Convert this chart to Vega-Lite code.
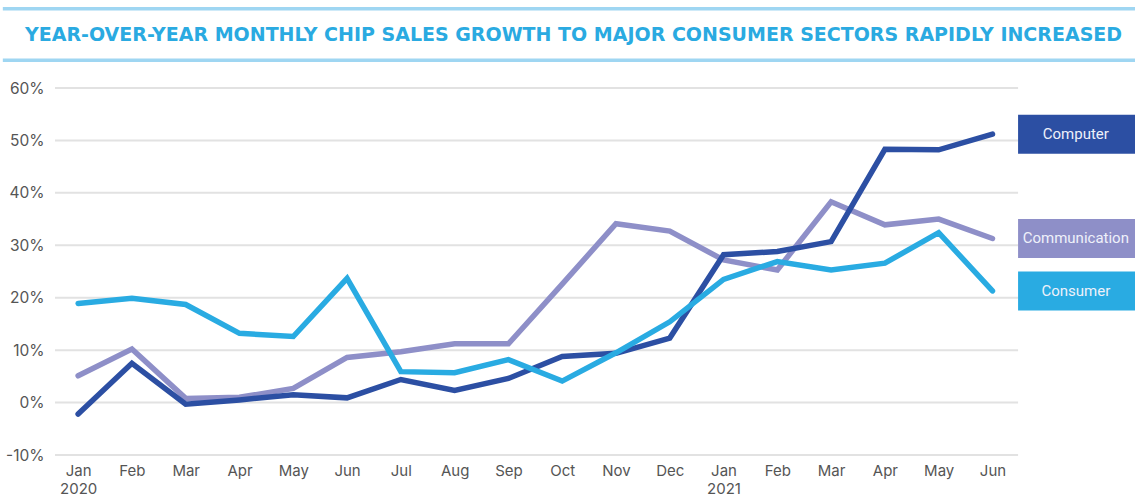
{
  "$schema": "https://vega.github.io/schema/vega-lite/v6.json",
  "autosize": "none",
  "width": 1080,
  "height": 367,
  "padding": {"left": 55, "top": 88, "right": 0, "bottom": 46},
  "background": "white",
  "config": {"view": {"stroke": null}, "font": "Inter"},
  "datasets": {
    "sales": [
      {"month": "Jan 2020", "idx": 0, "series": "Communication", "value": 5.1},
      {"month": "Feb 2020", "idx": 1, "series": "Communication", "value": 10.2},
      {"month": "Mar 2020", "idx": 2, "series": "Communication", "value": 0.8},
      {"month": "Apr 2020", "idx": 3, "series": "Communication", "value": 1.0},
      {"month": "May 2020", "idx": 4, "series": "Communication", "value": 2.7},
      {"month": "Jun 2020", "idx": 5, "series": "Communication", "value": 8.6},
      {"month": "Jul 2020", "idx": 6, "series": "Communication", "value": 9.7},
      {"month": "Aug 2020", "idx": 7, "series": "Communication", "value": 11.2},
      {"month": "Sep 2020", "idx": 8, "series": "Communication", "value": 11.2},
      {"month": "Oct 2020", "idx": 9, "series": "Communication", "value": 22.6},
      {"month": "Nov 2020", "idx": 10, "series": "Communication", "value": 34.1},
      {"month": "Dec 2020", "idx": 11, "series": "Communication", "value": 32.7},
      {"month": "Jan 2021", "idx": 12, "series": "Communication", "value": 27.2},
      {"month": "Feb 2021", "idx": 13, "series": "Communication", "value": 25.3},
      {"month": "Mar 2021", "idx": 14, "series": "Communication", "value": 38.3},
      {"month": "Apr 2021", "idx": 15, "series": "Communication", "value": 33.9},
      {"month": "May 2021", "idx": 16, "series": "Communication", "value": 35.0},
      {"month": "Jun 2021", "idx": 17, "series": "Communication", "value": 31.3},
      {"month": "Jan 2020", "idx": 0, "series": "Computer", "value": -2.2},
      {"month": "Feb 2020", "idx": 1, "series": "Computer", "value": 7.5},
      {"month": "Mar 2020", "idx": 2, "series": "Computer", "value": -0.3},
      {"month": "Apr 2020", "idx": 3, "series": "Computer", "value": 0.5},
      {"month": "May 2020", "idx": 4, "series": "Computer", "value": 1.5},
      {"month": "Jun 2020", "idx": 5, "series": "Computer", "value": 0.9},
      {"month": "Jul 2020", "idx": 6, "series": "Computer", "value": 4.4},
      {"month": "Aug 2020", "idx": 7, "series": "Computer", "value": 2.3},
      {"month": "Sep 2020", "idx": 8, "series": "Computer", "value": 4.6},
      {"month": "Oct 2020", "idx": 9, "series": "Computer", "value": 8.8},
      {"month": "Nov 2020", "idx": 10, "series": "Computer", "value": 9.4},
      {"month": "Dec 2020", "idx": 11, "series": "Computer", "value": 12.3},
      {"month": "Jan 2021", "idx": 12, "series": "Computer", "value": 28.2},
      {"month": "Feb 2021", "idx": 13, "series": "Computer", "value": 28.8},
      {"month": "Mar 2021", "idx": 14, "series": "Computer", "value": 30.7},
      {"month": "Apr 2021", "idx": 15, "series": "Computer", "value": 48.3},
      {"month": "May 2021", "idx": 16, "series": "Computer", "value": 48.2},
      {"month": "Jun 2021", "idx": 17, "series": "Computer", "value": 51.2},
      {"month": "Jan 2020", "idx": 0, "series": "Consumer", "value": 18.9},
      {"month": "Feb 2020", "idx": 1, "series": "Consumer", "value": 19.9},
      {"month": "Mar 2020", "idx": 2, "series": "Consumer", "value": 18.7},
      {"month": "Apr 2020", "idx": 3, "series": "Consumer", "value": 13.2},
      {"month": "May 2020", "idx": 4, "series": "Consumer", "value": 12.6},
      {"month": "Jun 2020", "idx": 5, "series": "Consumer", "value": 23.7},
      {"month": "Jul 2020", "idx": 6, "series": "Consumer", "value": 5.9},
      {"month": "Aug 2020", "idx": 7, "series": "Consumer", "value": 5.7},
      {"month": "Sep 2020", "idx": 8, "series": "Consumer", "value": 8.2},
      {"month": "Oct 2020", "idx": 9, "series": "Consumer", "value": 4.1},
      {"month": "Nov 2020", "idx": 10, "series": "Consumer", "value": 9.5},
      {"month": "Dec 2020", "idx": 11, "series": "Consumer", "value": 15.4},
      {"month": "Jan 2021", "idx": 12, "series": "Consumer", "value": 23.5},
      {"month": "Feb 2021", "idx": 13, "series": "Consumer", "value": 26.9},
      {"month": "Mar 2021", "idx": 14, "series": "Consumer", "value": 25.3},
      {"month": "Apr 2021", "idx": 15, "series": "Consumer", "value": 26.6},
      {"month": "May 2021", "idx": 16, "series": "Consumer", "value": 32.4},
      {"month": "Jun 2021", "idx": 17, "series": "Consumer", "value": 21.3}
    ],
    "grid": [
      {"tick": -10}, {"tick": 0}, {"tick": 10}, {"tick": 20},
      {"tick": 30}, {"tick": 40}, {"tick": 50}, {"tick": 60}
    ],
    "one": [{"title": "YEAR-OVER-YEAR MONTHLY CHIP SALES GROWTH TO MAJOR CONSUMER SECTORS RAPIDLY INCREASED"}]
  },
  "layer": [
    {
      "data": {"name": "grid"},
      "mark": {"type": "rule", "color": "#e2e2e2", "strokeWidth": 2},
      "encoding": {
        "y": {"field": "tick", "type": "quantitative"},
        "x": {"datum": -0.43},
        "x2": {"datum": 17.476}
      }
    },
    {
      "data": {"name": "one"},
      "mark": {"type": "rule", "color": "#9fd6f2", "strokeWidth": 3.5},
      "encoding": {
        "y": {"datum": 75.1},
        "x": {"datum": -1.4},
        "x2": {"datum": 19.65}
      }
    },
    {
      "data": {"name": "one"},
      "mark": {"type": "rule", "color": "#9fd6f2", "strokeWidth": 3.5},
      "encoding": {
        "y": {"datum": 65.3},
        "x": {"datum": -1.4},
        "x2": {"datum": 19.65}
      }
    },
    {
      "data": {"name": "one"},
      "mark": {"type": "text", "color": "#2aaae1", "fontSize": 19, "fontWeight": "bold", "font": "DejaVu Sans", "baseline": "middle", "align": "center"},
      "encoding": {
        "text": {"field": "title"},
        "y": {"datum": 70.1},
        "x": {"datum": 9.211}
      }
    },
    {
      "data": {"name": "sales"},
      "mark": {"type": "line", "strokeWidth": 5.5, "strokeCap": "round", "strokeJoin": "miter"},
      "encoding": {
        "x": {
          "field": "idx", "type": "quantitative",
          "scale": {"domain": [-0.43, 19.65], "nice": false, "zero": false},
          "axis": {
            "values": [0,1,2,3,4,5,6,7,8,9,10,11,12,13,14,15,16,17],
            "labelExpr": "datum.value == 0 ? ['Jan','2020'] : datum.value == 12 ? ['Jan','2021'] : ['Jan','Feb','Mar','Apr','May','Jun','Jul','Aug','Sep','Oct','Nov','Dec'][datum.value % 12]",
            "domain": false, "ticks": false, "grid": false, "title": null,
            "labelFontSize": 15, "labelColor": "#555555", "labelPadding": 8, "labelLineHeight": 18, "labelFont": "Inter"
          }
        },
        "y": {
          "field": "value", "type": "quantitative",
          "scale": {"domain": [-10, 60], "nice": false, "zero": false},
          "axis": {
            "values": [-10, 0, 10, 20, 30, 40, 50, 60],
            "labelExpr": "datum.value + '%'",
            "domain": false, "ticks": false, "grid": false, "title": null,
            "labelFontSize": 15.5, "labelColor": "#555555", "labelPadding": 11, "labelFont": "Inter"
          }
        },
        "color": {
          "field": "series", "type": "nominal",
          "scale": {"domain": ["Computer", "Communication", "Consumer"], "range": ["#2c4fa3", "#8e8fc8", "#29abe2"]},
          "legend": null
        }
      }
    },
    {
      "data": {"name": "sales"},
      "transform": [{"filter": "datum.idx == 17"}],
      "mark": {"type": "rect", "yOffset": -19.5, "y2Offset": 19.5},
      "encoding": {
        "x": {"datum": 17.476},
        "x2": {"datum": 19.65},
        "y": {"field": "value", "type": "quantitative"},
        "y2": {"field": "value"},
        "color": {"field": "series", "type": "nominal", "legend": null}
      }
    },
    {
      "data": {"name": "sales"},
      "transform": [{"filter": "datum.idx == 17"}],
      "mark": {"type": "text", "color": "#eef1fa", "fontSize": 15, "font": "Roboto", "baseline": "middle", "align": "center"},
      "encoding": {
        "x": {"datum": 18.55},
        "y": {"field": "value", "type": "quantitative"},
        "text": {"field": "series"}
      }
    }
  ]
}
